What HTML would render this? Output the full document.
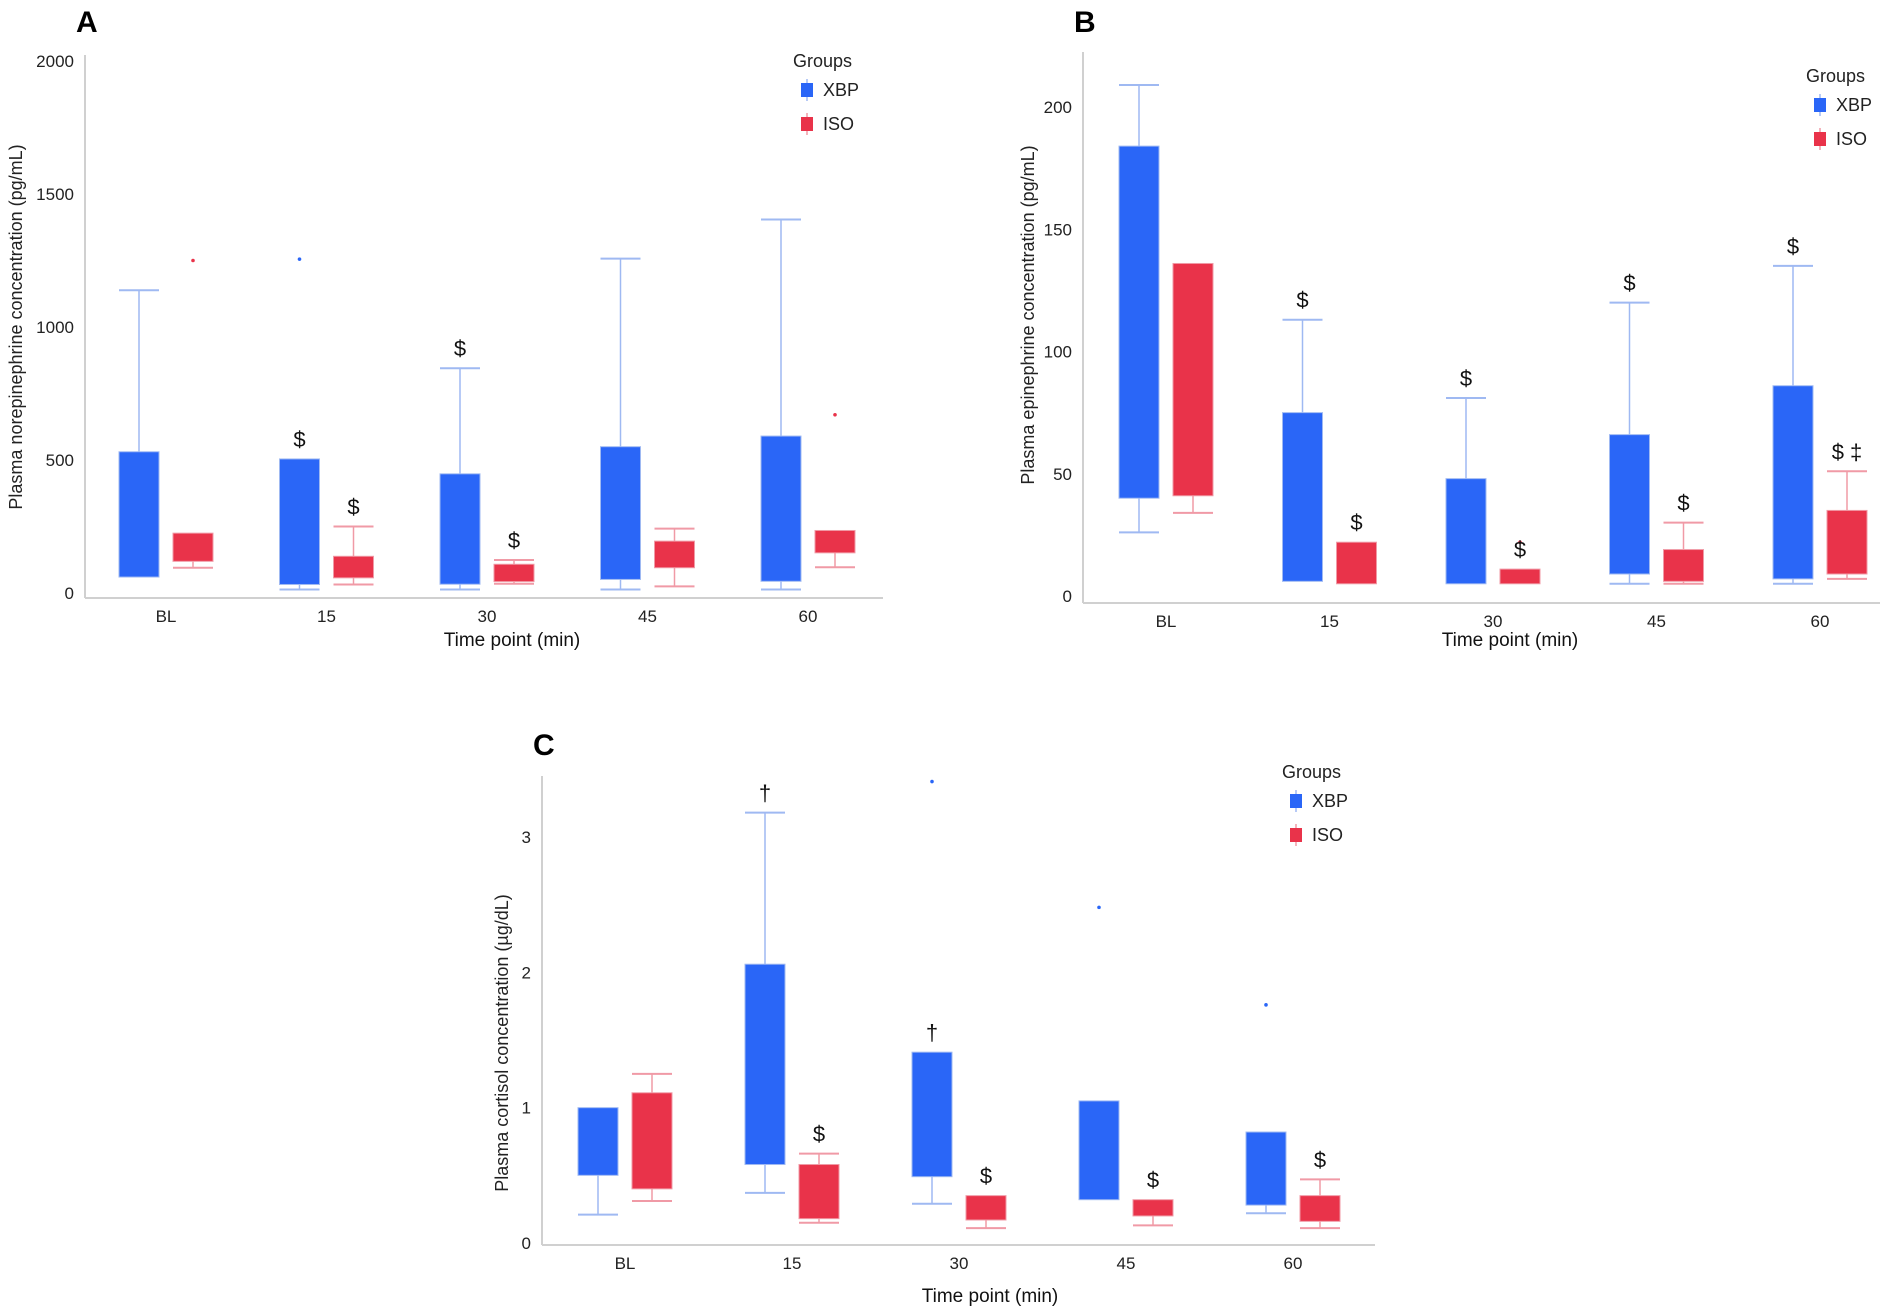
<!DOCTYPE html>
<html><head><meta charset="utf-8">
<style>
html,body{margin:0;padding:0;background:#fff;}
svg{display:block;font-family:"Liberation Sans",Arial,sans-serif;}
</style></head>
<body>
<svg id="fig" width="1902" height="1314" viewBox="0 0 1902 1314"></svg>
<script>
// ---------- Shared ----------
const categories = ["BL","15","30","45","60"];

// ---------- Panel A: norepinephrine (pg/mL) ----------
const aTicks = [0,500,1000,1500,2000];
const aXbpLo = [60,13,13,13,13];
const aXbpQ1 = [60,32,33,51,44];
const aXbpQ3 = [531,504,448,550,590];
const aXbpHi = [1138,504,845,1257,1404];
const aIsoLo = [95,32,35,25,97];
const aIsoQ1 = [119,57,43,95,151];
const aIsoQ3 = [225,138,108,195,235];
const aIsoHi = [225,250,124,242,235];
const aXbpOut = [null,1255,null,null,null];
const aIsoOut = [1250,null,null,null,670];
const aXbpMark = ["","$","$","",""];
const aIsoMark = ["","$","$","",""];

// ---------- Panel B: epinephrine (pg/mL) ----------
const bTicks = [0,50,100,150,200];
const bXbpLo = [26,6,5,5,5];
const bXbpQ1 = [40,6,5,9,7];
const bXbpQ3 = [184,75,48,66,86];
const bXbpHi = [209,113,81,120,135];
const bIsoLo = [34,5,5,5,7];
const bIsoQ1 = [41,5,5,6,9];
const bIsoQ3 = [136,22,11,19,35];
const bIsoHi = [136,22,11,30,51];
const bXbpOut = [null,null,null,null,null];
const bIsoOut = [null,null,22,null,null];
const bXbpMark = ["","$","$","$","$"];
const bIsoMark = ["","$","$","$","$ \u2021"];

// ---------- Panel C: cortisol (µg/dL) ----------
const cTicks = [0,1,2,3];
const cXbpLo = [0.21,0.37,0.29,0.32,0.22];
const cXbpQ1 = [0.50,0.58,0.49,0.32,0.28];
const cXbpQ3 = [1.00,2.06,1.41,1.05,0.82];
const cXbpHi = [1.00,3.18,1.41,1.05,0.82];
const cIsoLo = [0.31,0.15,0.11,0.13,0.11];
const cIsoQ1 = [0.40,0.18,0.17,0.20,0.16];
const cIsoQ3 = [1.11,0.58,0.35,0.32,0.35];
const cIsoHi = [1.25,0.66,0.35,0.32,0.47];
const cXbpOut = [null,null,3.41,2.48,1.76];
const cIsoOut = [null,null,null,null,null];
const cXbpMark = ["","\u2020","\u2020","",""];
const cIsoMark = ["","$","$","$","$"];

const NS="http://www.w3.org/2000/svg";
const svg=document.getElementById('fig');
const BLUE="#2a66f7", RED="#e9334a", BLUEL="#9fb9f2", REDL="#f09aa6";

function mk(tag,attrs,parent){
  const e=document.createElementNS(NS,tag);
  for(const k in attrs) e.setAttribute(k,attrs[k]);
  (parent||svg).appendChild(e);
  return e;
}

function drawPanel(p){
  const g=mk('g',{});
  
  
  const yS=v=>p.y0+(v-0)*(p.yTop-p.y0)/p.vTop;
  const xS=i=>p.cx0+i*p.step;
  const L=mk('text',{x:p.letterX,y:p.letterY,'font-size':30,'font-weight':'bold',fill:'#000'},g);
  L.textContent=p.letter;
  
  
  const ya=mk('line',{x1:p.ax,y1:p.axTop,x2:p.ax,y2:p.axY,stroke:'#d0d0d0','stroke-width':2},g);
  
  
  const xa=mk('line',{x1:p.ax,y1:p.axY,x2:p.axR,y2:p.axY,stroke:'#d0d0d0','stroke-width':2},g);
  
  
  p.ticks.forEach(t=>{
    const tx=mk('text',{x:p.ax-11,y:yS(t)+6,'font-size':17,'text-anchor':'end',fill:'#222'},g);
    tx.textContent=t;
    
    
  });
  categories.forEach((c,i)=>{
    const tx=mk('text',{x:xS(i),y:p.axY+24,'font-size':17,'text-anchor':'middle',fill:'#222'},g);
    tx.textContent=c;
    
    
  });
  const xt=mk('text',{x:p.xTitleX,y:p.xTitleY,'font-size':19,'text-anchor':'middle',fill:'#111'},g);
  xt.textContent="Time point (min)";
  
  
  const yt=mk('text',{x:0,y:0,'font-size':18,'text-anchor':'middle',fill:'#222',transform:`translate(${p.yTitleX},${p.yTitleY}) rotate(-90)`},g);
  yt.textContent=p.yTitle;
  
  
  const series=[
    {name:'xbp',off:-27,col:BLUE,lc:BLUEL,lo:p.xLo,q1:p.xQ1,q3:p.xQ3,hi:p.xHi,out:p.xOut,mark:p.xMark},
    {name:'iso',off:27,col:RED,lc:REDL,lo:p.iLo,q1:p.iQ1,q3:p.iQ3,hi:p.iHi,out:p.iOut,mark:p.iMark}
  ];
  const bw=40;
  series.forEach(s=>{
    categories.forEach((c,i)=>{
      const cx=xS(i)+s.off;
      const bg=mk('g',{},g);
      
      
      if(s.hi[i]>s.q3[i]){
        mk('line',{x1:cx,y1:yS(s.hi[i]),x2:cx,y2:yS(s.q3[i]),stroke:s.lc,'stroke-width':1.5},bg);
        mk('line',{x1:cx-bw/2,y1:yS(s.hi[i]),x2:cx+bw/2,y2:yS(s.hi[i]),stroke:s.lc,'stroke-width':2},bg);
      }
      if(s.lo[i]<s.q1[i]){
        mk('line',{x1:cx,y1:yS(s.q1[i]),x2:cx,y2:yS(s.lo[i]),stroke:s.lc,'stroke-width':1.5},bg);
        mk('line',{x1:cx-bw/2,y1:yS(s.lo[i]),x2:cx+bw/2,y2:yS(s.lo[i]),stroke:s.lc,'stroke-width':2},bg);
      }
      mk('rect',{x:cx-bw/2,y:yS(s.q3[i]),width:bw,height:Math.max(1,yS(s.q1[i])-yS(s.q3[i])),fill:s.col,stroke:s.lc,'stroke-width':1},bg);
      if(s.out[i]!==null){
        const o=mk('circle',{cx:cx,cy:yS(s.out[i]),r:1.8,fill:s.col},g);
        
        
      }
      if(s.mark[i]){
        const top=Math.max(s.hi[i],s.q3[i]);
        const m=mk('text',{x:cx,y:yS(top)-12,'font-size':22,'text-anchor':'middle',fill:'#111'},g);
        m.textContent=s.mark[i];
        
        
      }
    });
  });
  const lg=mk('g',{},g);
  
  
  const gt=mk('text',{x:p.legX,y:p.legY,'font-size':18,fill:'#222'},lg);
  gt.textContent="Groups";
  [['XBP',BLUE,BLUEL],['ISO',RED,REDL]].forEach((e,k)=>{
    const cy=p.legY+23+k*34;
    const eg=mk('g',{},lg);
    
    
    mk('line',{x1:p.legX+14,y1:cy-11,x2:p.legX+14,y2:cy+11,stroke:e[2],'stroke-width':1.5},eg);
    mk('rect',{x:p.legX+8,y:cy-7,width:12,height:14,fill:e[1]},eg);
    const t=mk('text',{x:p.legX+30,y:cy+6,'font-size':18,fill:'#222'},eg);
    t.textContent=e[0];
  });
}

drawPanel({id:'panel-a',letter:'A',letterX:76,letterY:32,ax:85,axTop:55,axY:598,axR:883,
  y0:593,yTop:61,vTop:2000,ticks:aTicks,cx0:166,step:160.5,
  xTitleX:512,xTitleY:646,yTitleX:22,yTitleY:327,yTitle:"Plasma norepinephrine concentration (pg/mL)",
  legX:793,legY:67,
  xLo:aXbpLo,xQ1:aXbpQ1,xQ3:aXbpQ3,xHi:aXbpHi,xOut:aXbpOut,xMark:aXbpMark,
  iLo:aIsoLo,iQ1:aIsoQ1,iQ3:aIsoQ3,iHi:aIsoHi,iOut:aIsoOut,iMark:aIsoMark});

drawPanel({id:'panel-b',letter:'B',letterX:1074,letterY:32,ax:1083,axTop:52,axY:603,axR:1880,
  y0:596,yTop:107,vTop:200,ticks:bTicks,cx0:1166,step:163.5,
  xTitleX:1510,xTitleY:646,yTitleX:1034,yTitleY:315,yTitle:"Plasma epinephrine concentration (pg/mL)",
  legX:1806,legY:82,
  xLo:bXbpLo,xQ1:bXbpQ1,xQ3:bXbpQ3,xHi:bXbpHi,xOut:bXbpOut,xMark:bXbpMark,
  iLo:bIsoLo,iQ1:bIsoQ1,iQ3:bIsoQ3,iHi:bIsoHi,iOut:bIsoOut,iMark:bIsoMark});

drawPanel({id:'panel-c',letter:'C',letterX:533,letterY:755,ax:542,axTop:776,axY:1245,axR:1375,
  y0:1243,yTop:837,vTop:3,ticks:cTicks,cx0:625,step:167,
  xTitleX:990,xTitleY:1302,yTitleX:508,yTitleY:1043,yTitle:"Plasma cortisol concentration (\u00b5g/dL)",
  legX:1282,legY:778,
  xLo:cXbpLo,xQ1:cXbpQ1,xQ3:cXbpQ3,xHi:cXbpHi,xOut:cXbpOut,xMark:cXbpMark,
  iLo:cIsoLo,iQ1:cIsoQ1,iQ3:cIsoQ3,iHi:cIsoHi,iOut:cIsoOut,iMark:cIsoMark});
</script>
</body></html>
